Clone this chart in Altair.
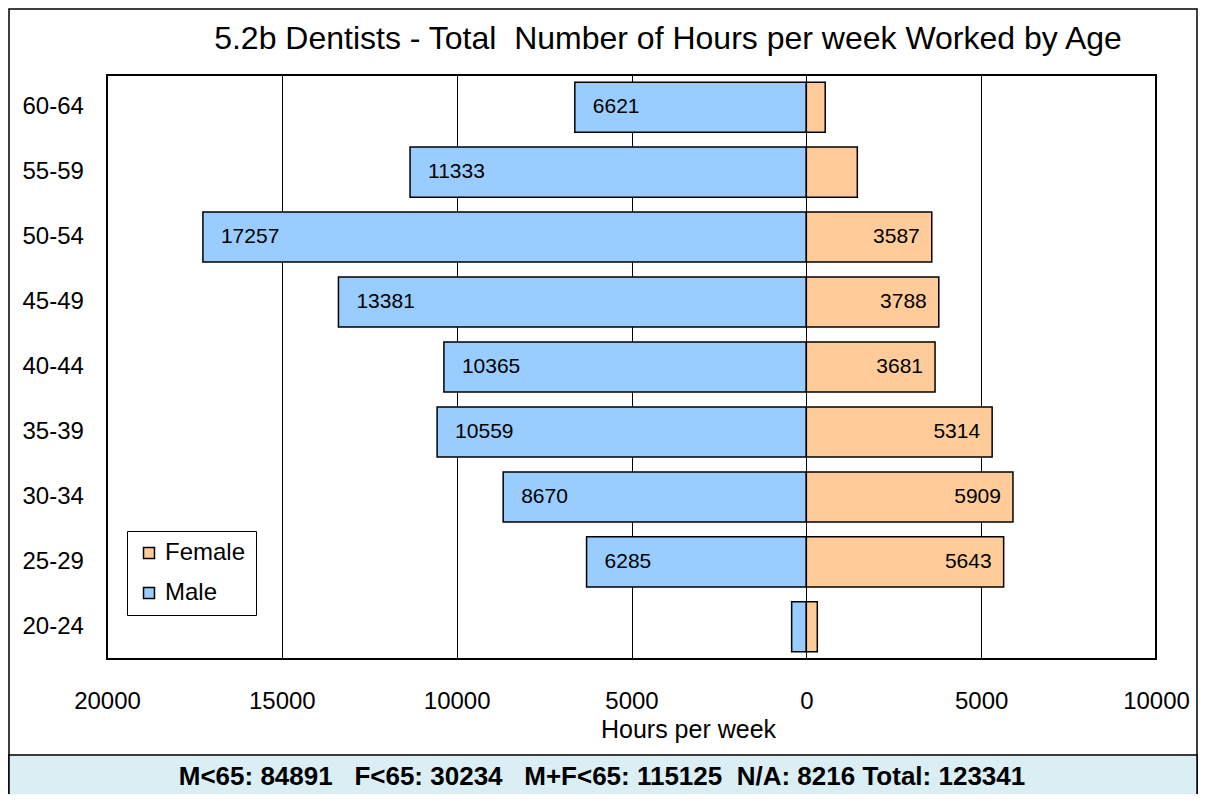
import altair as alt
import pandas as pd

ages = ["60-64", "55-59", "50-54", "45-49", "40-44", "35-39", "30-34", "25-29", "20-24"]
male = [6621, 11333, 17257, 13381, 10365, 10559, 8670, 6285, 420]
female = [540, 1458, 3587, 3788, 3681, 5314, 5909, 5643, 314]
labelled_male = [True, True, True, True, True, True, True, True, False]
labelled_female = [False, False, True, True, True, True, True, True, False]
x_ticks = [-20000, -15000, -10000, -5000, 0, 5000, 10000]
title_text = "5.2b Dentists - Total \u00a0Number of Hours per week Worked by Age"
footer_text = "M<65: 84891\u00a0\u00a0\u00a0F<65: 30234\u00a0\u00a0\u00a0M+F<65: 115125\u00a0\u00a0N/A: 8216 Total: 123341"

rows = []
for a, m, f, lm, lf in zip(ages, male, female, labelled_male, labelled_female):
    rows.append({"age": a, "sex": "Male", "value": -m, "label": str(m), "show": lm})
    rows.append({"age": a, "sex": "Female", "value": f, "label": str(f), "show": lf})
df = pd.DataFrame(rows)

FONT = "Liberation Sans"
W, H = 1049, 584

xscale = alt.Scale(domain=[-20000, 10000], nice=False, zero=False)
yscale = alt.Scale(domain=ages, paddingInner=0.23, paddingOuter=0.11)

frame = alt.Chart(alt.Data(values=[{}])).mark_rect(
    fill=None, fillOpacity=0, stroke="black", strokeWidth=1.5
).encode(x=alt.value(-98), x2=alt.value(1090), y=alt.value(-66), y2=alt.value(722))

band = alt.Chart(alt.Data(values=[{}])).mark_rect(
    fill="#DAEEF3", stroke="black", strokeWidth=1.5
).encode(x=alt.value(-98), x2=alt.value(1090), y=alt.value(680), y2=alt.value(724))

bars = alt.Chart(df).mark_bar(stroke="black", strokeWidth=1.5).encode(
    x=alt.X("value:Q", scale=xscale,
            axis=alt.Axis(values=x_ticks, labelExpr="abs(datum.value)", grid=True,
                          gridColor="black", gridWidth=1, gridOpacity=1,
                          ticks=False, domain=False, labelFontSize=24, labelFont=FONT,
                          labelColor="black", labelPadding=30, labelBaseline="top",
                          title="Hours per week", titleFontSize=25, titleFont=FONT,
                          titleFontWeight="normal", titleColor="black",
                          titleY=58, titleX=581, titleBaseline="top",
                          labelFlush=False)),
    y=alt.Y("age:N", scale=yscale, sort=ages,
            axis=alt.Axis(title=None, ticks=False, domain=False, grid=False,
                          labelAlign="left", labelPadding=85, labelFontSize=24,
                          labelFont=FONT, labelColor="black")),
    x2=alt.datum(0),
    color=alt.Color("sex:N",
                    scale=alt.Scale(domain=["Female", "Male"], range=["#FFCC99", "#99CCFF"]),
                    legend=alt.Legend(title=None, orient="none", legendX=20, legendY=456,
                                      strokeColor="black", fillColor="white", padding=10,
                                      rowPadding=16, labelFontSize=24, labelFont=FONT,
                                      labelColor="black", symbolType="square",
                                      symbolSize=120, symbolStrokeColor="black",
                                      symbolStrokeWidth=1.5, labelOffset=4,
                                      cornerRadius=0)),
)

male_labels = alt.Chart(df).transform_filter(
    "datum.sex == 'Male' && datum.show"
).mark_text(align="left", baseline="middle", dx=18, fontSize=21, font=FONT, color="black").encode(
    x=alt.X("value:Q", scale=xscale),
    y=alt.Y("age:N", scale=yscale, sort=ages),
    text="label:N",
)

female_labels = alt.Chart(df).transform_filter(
    "datum.sex == 'Female' && datum.show"
).mark_text(align="right", baseline="middle", dx=-12, fontSize=21, font=FONT, color="black").encode(
    x=alt.X("value:Q", scale=xscale),
    y=alt.Y("age:N", scale=yscale, sort=ages),
    text="label:N",
)

title = alt.Chart(alt.Data(values=[{"t": title_text}])).mark_text(
    align="center", baseline="alphabetic", fontSize=32, font=FONT, color="black"
).encode(x=alt.value(561), y=alt.value(-26), text="t:N")

footer = alt.Chart(alt.Data(values=[{"t": footer_text}])).mark_text(
    align="center", baseline="middle", fontSize=26, font=FONT, fontWeight="bold", color="black"
).encode(x=alt.value(495), y=alt.value(702), text="t:N")

chart = alt.layer(frame, band, bars, male_labels, female_labels, title, footer).properties(
    width=W, height=H,
    autosize=alt.AutoSizeParams(type="none"),
    padding={"left": 99, "top": 67, "right": 43, "bottom": 135},
).configure(background="white").configure_view(stroke="black", strokeWidth=2)

chart.save("out.html", embed_options={"renderer": "svg", "actions": False})
